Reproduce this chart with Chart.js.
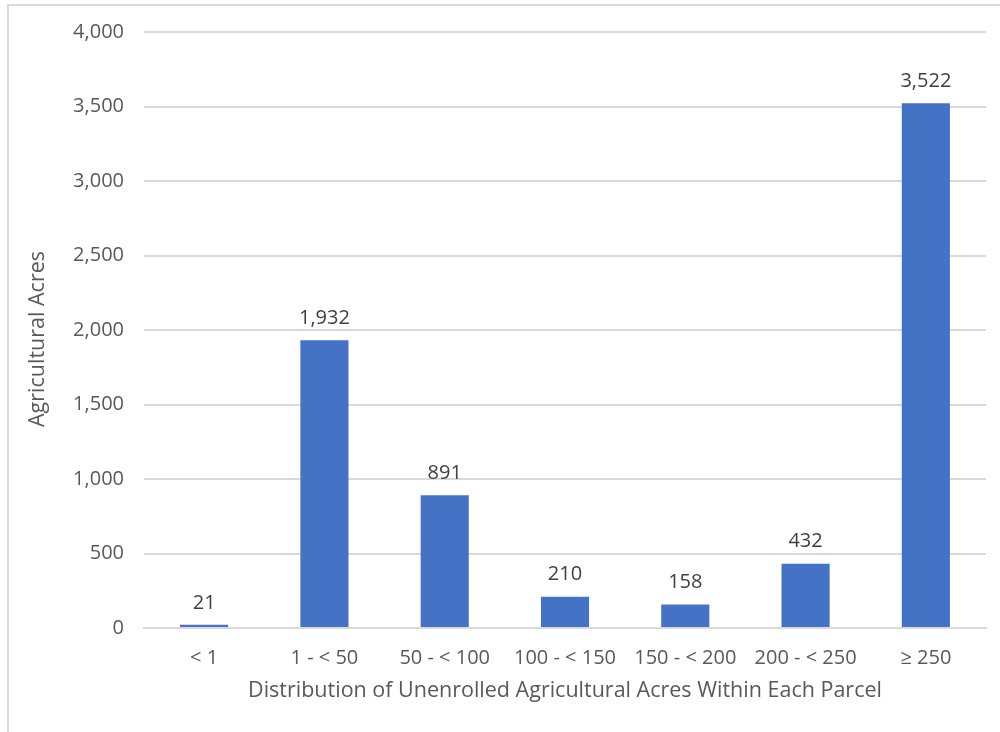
<!DOCTYPE html>
<html>
<head>
<meta charset="utf-8">
<script src="https://cdn.jsdelivr.net/npm/chart.js@4/dist/chart.umd.min.js"></script>
<style>
  html, body { margin: 0; padding: 0; background: #ffffff; }
  #wrap { position: relative; width: 1000px; height: 732px; }
</style>
</head>
<body>
<div id="wrap"><canvas id="chart" width="1000" height="732"></canvas></div>
<script>
// Parcel size classes and unenrolled agricultural acres in each
const categories = ['< 1', '1 - < 50', '50 - < 100', '100 - < 150', '150 - < 200', '200 - < 250', '\u2265 250'];
const acres = [21, 1932, 891, 210, 158, 432, 3522];
const yTicks = [0, 500, 1000, 1500, 2000, 2500, 3000, 3500, 4000];
const yTitle = 'Agricultural Acres';
const xTitle = 'Distribution of Unenrolled Agricultural Acres Within Each Parcel';

const FONT = "'Open Sans', 'Noto Sans', sans-serif";
const fmt = v => v.toLocaleString('en-US');

// Thin frame along the top and left edges
const framePlugin = {
  id: 'frame',
  beforeDraw(chart) {
    const ctx = chart.ctx;
    ctx.save();
    ctx.fillStyle = '#ffffff';
    ctx.fillRect(0, 0, chart.width, chart.height);
    ctx.strokeStyle = '#d9d9d9';
    ctx.lineWidth = 2;
    ctx.beginPath();
    ctx.moveTo(8, chart.height);
    ctx.lineTo(8, 5);
    ctx.lineTo(chart.width, 5);
    ctx.stroke();
    ctx.restore();
  }
};

// Rotated value-axis title, placed a little below the plot's midline
const yTitlePlugin = {
  id: 'yTitle',
  afterDraw(chart) {
    const ctx = chart.ctx;
    const area = chart.chartArea;
    ctx.save();
    ctx.translate(38, (area.top + area.bottom) / 2 + 9);
    ctx.rotate(-Math.PI / 2);
    ctx.font = '21.5px ' + FONT;
    ctx.fillStyle = '#595959';
    ctx.textAlign = 'center';
    ctx.textBaseline = 'middle';
    ctx.fillText(yTitle, 0, 0);
    ctx.restore();
  }
};

// Value labels above each bar
const valueLabels = {
  id: 'valueLabels',
  afterDatasetsDraw(chart) {
    const ctx = chart.ctx;
    const meta = chart.getDatasetMeta(0);
    ctx.save();
    ctx.font = '20px ' + FONT;
    ctx.fillStyle = '#404040';
    ctx.textAlign = 'center';
    ctx.textBaseline = 'middle';
    meta.data.forEach((bar, i) => {
      ctx.fillText(fmt(acres[i]), bar.x, bar.y - 22);
    });
    ctx.restore();
  }
};

new Chart(document.getElementById('chart'), {
  type: 'bar',
  data: {
    labels: categories,
    datasets: [{
      data: acres,
      backgroundColor: '#4472c4',
      borderWidth: 0,
      barPercentage: 0.4,
      categoryPercentage: 1.0
    }]
  },
  options: {
    responsive: false,
    animation: false,
    devicePixelRatio: 1,
    layout: { padding: { left: 10, right: 14, top: 18, bottom: 28 } },
    plugins: {
      legend: { display: false },
      tooltip: { enabled: false }
    },
    scales: {
      x: {
        grid: { display: false, drawTicks: false },
        border: { display: true, color: '#d9d9d9', width: 2 },
        ticks: { color: '#595959', font: { family: FONT, size: 20 }, padding: 18, maxRotation: 0 },
        title: {
          display: true,
          text: xTitle,
          color: '#595959',
          font: { family: FONT, size: 21.5 },
          padding: { top: 4, bottom: 0 }
        },
        afterFit(scale) { scale.height = 704 - 628; }
      },
      y: {
        min: 0,
        max: 4000,
        afterBuildTicks(scale) { scale.ticks = yTicks.map(v => ({ value: v })); },
        grid: { color: '#d9d9d9', lineWidth: 2, drawTicks: false },
        border: { display: false },
        ticks: {
          color: '#595959',
          font: { family: FONT, size: 20 },
          padding: 20,
          callback: v => fmt(v)
        },
        title: { display: false },
        afterFit(scale) { scale.width = 144 - 10; }
      }
    }
  },
  plugins: [framePlugin, yTitlePlugin, valueLabels]
});
</script>
</body>
</html>
